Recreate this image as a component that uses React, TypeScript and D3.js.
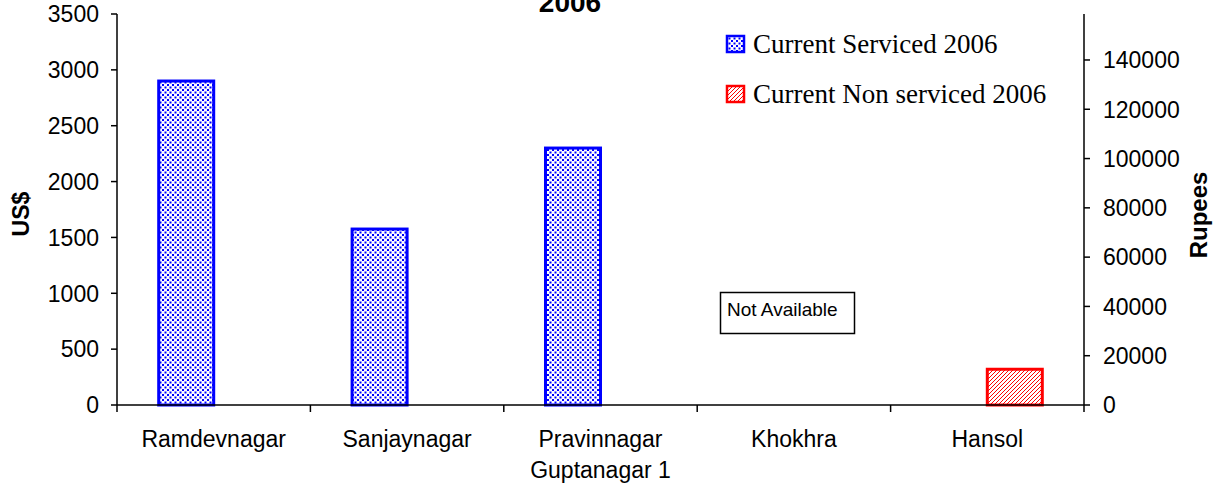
import React from 'react'
import * as d3 from 'd3'

// Chart data
const categories = ['Ramdevnagar', 'Sanjaynagar', 'Pravinnagar|Guptanagar 1', 'Khokhra', 'Hansol']
const serviced = [2900, 1575, 2300, null, 0]
const nonServiced = [0, 0, 0, null, 320]
const leftTicks = [0, 500, 1000, 1500, 2000, 2500, 3000, 3500]
const rightTicks = [0, 20000, 40000, 60000, 80000, 100000, 120000, 140000]
const seriesNames = ['Current Serviced 2006', 'Current Non serviced 2006']
const rupeesPerDollar = 45.33

export default function App() {
  const width = 1214
  const height = 487
  const margin = { left: 117, right: 130, top: 14, bottom: 82 }
  const innerW = width - margin.left - margin.right
  const innerH = height - margin.top - margin.bottom

  const x = d3.scaleBand()
    .domain(categories)
    .range([0, innerW])
    .paddingInner(0)
    .paddingOuter(0)

  const bw = 55
  const gap = (x.bandwidth() - 2 * bw) / 2

  const y = d3.scaleLinear().domain([0, 3500]).range([innerH, 0])
  const yR = d3.scaleLinear().domain([0, 3500 * rupeesPerDollar]).range([innerH, 0])

  const arial = 'Liberation Sans, Arial, sans-serif'
  const times = 'Liberation Serif, Times New Roman, serif'

  const bars: { i: number; s: number; v: number }[] = []
  categories.forEach((c, i) => {
    if (serviced[i]) bars.push({ i, s: 0, v: serviced[i] as number })
    if (nonServiced[i]) bars.push({ i, s: 1, v: nonServiced[i] as number })
  })

  return (
    <svg width={width} height={height} style={{ position: 'absolute', left: 0, top: 0, background: '#fff' }}>
      <defs>
        <pattern id="dots" width={5} height={5} patternUnits="userSpaceOnUse">
          <rect width={5} height={5} fill="#fff" />
          <rect x={0} y={0} width={2} height={2} fill="#0000ff" />
          <rect x={2.5} y={2.5} width={2} height={2} fill="#0000ff" />
        </pattern>
        <pattern id="hatch" width={4} height={4} patternUnits="userSpaceOnUse">
          <rect width={4} height={4} fill="#fff" />
          <path d="M-1,1 l2,-2 M0,4 l4,-4 M3,5 l2,-2" stroke="#ff0000" strokeWidth={1} />
        </pattern>
      </defs>
      <text x={570} y={12} textAnchor="middle" fontFamily={arial} fontWeight="bold" fontSize={28}>2006</text>
      <g transform={`translate(${margin.left},${margin.top})`}>
        {/* bars */}
        {bars.map((b, k) => (
          <rect
            key={k}
            x={(x(categories[b.i]) as number) + gap + b.s * bw}
            y={y(b.v)}
            width={bw}
            height={innerH - y(b.v)}
            fill={b.s === 0 ? 'url(#dots)' : 'url(#hatch)'}
            stroke={b.s === 0 ? '#0000ff' : '#ff0000'}
            strokeWidth={3}
          />
        ))}

        {/* left axis */}
        <line x1={0} x2={0} y1={0} y2={innerH} stroke="#000" strokeWidth={1.5} />
        {leftTicks.map(t => (
          <g key={t} transform={`translate(0,${y(t)})`}>
            <line x1={-6} x2={0} stroke="#000" strokeWidth={1.5} />
            <text x={-18} dy="0.36em" textAnchor="end" fontFamily={arial} fontSize={23}>{t}</text>
          </g>
        ))}
        <text transform={`translate(${-88},${200}) rotate(-90)`} textAnchor="middle" fontFamily={arial} fontWeight="bold" fontSize={23}>US$</text>

        {/* right axis */}
        <line x1={innerW} x2={innerW} y1={0} y2={innerH} stroke="#000" strokeWidth={1.5} />
        {rightTicks.map(t => (
          <g key={t} transform={`translate(${innerW},${yR(t)})`}>
            <line x1={0} x2={6} stroke="#000" strokeWidth={1.5} />
            <text x={19} dy="0.36em" textAnchor="start" fontFamily={arial} fontSize={23}>{t}</text>
          </g>
        ))}
        <text transform={`translate(${innerW + 123},${201}) rotate(-90)`} textAnchor="middle" fontFamily={arial} fontWeight="bold" fontSize={24}>Rupees</text>

        {/* x axis */}
        <line x1={0} x2={innerW} y1={innerH} y2={innerH} stroke="#000" strokeWidth={1.5} />
        {categories.concat(['end']).map((c, i) => (
          <line key={i} x1={x.bandwidth() * i} x2={x.bandwidth() * i} y1={innerH} y2={innerH + 7} stroke="#000" strokeWidth={1.5} />
        ))}
        {categories.map(c => (
          <text key={c} x={(x(c) as number) + x.bandwidth() / 2} y={innerH + 42} textAnchor="middle" fontFamily={arial} fontSize={23}>
            {c.split('|').map((l, j) => (
              <tspan key={j} x={(x(c) as number) + x.bandwidth() / 2} dy={j === 0 ? 0 : 31}>{l}</tspan>
            ))}
          </text>
        ))}
      </g>

      {/* legend */}
      {seriesNames.map((n, i) => (
        <g key={n} transform={`translate(726,${35 + i * 50})`}>
          <rect x={1} y={1} width={17} height={16} fill={i === 0 ? 'url(#dots)' : 'url(#hatch)'} stroke={i === 0 ? '#0000ff' : '#ff0000'} strokeWidth={2.5} />
          <text x={27} y={18} fontFamily={times} fontSize={27}>{n}</text>
        </g>
      ))}

      {/* not available note */}
      <rect x={720.5} y={292.5} width={134} height={41} fill="#fff" stroke="#000" strokeWidth={1.5} />
      <text x={727} y={316} fontFamily={arial} fontSize={19}>Not Available</text>
    </svg>
  )
}
